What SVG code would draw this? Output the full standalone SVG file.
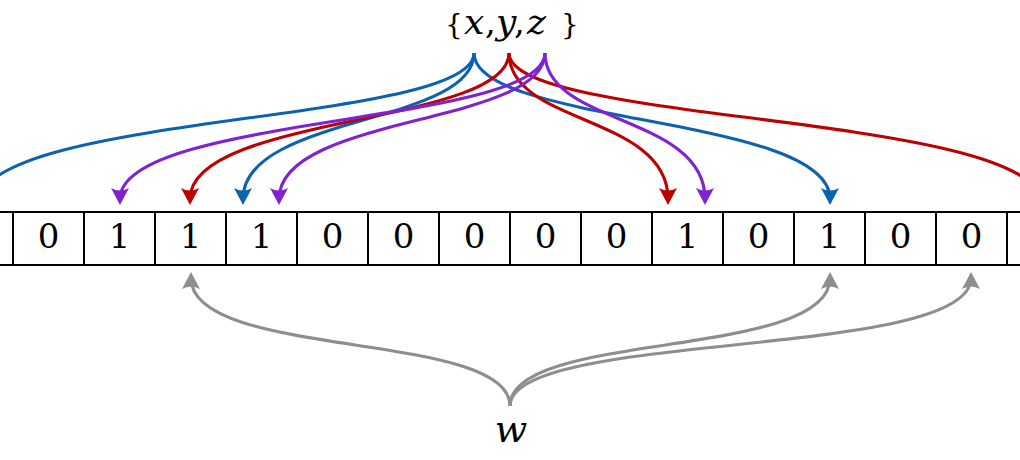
<svg xmlns="http://www.w3.org/2000/svg" width="1020" height="460" viewBox="0 0 1020 460">
<style>
.cell{fill:#fff;stroke:#000;stroke-width:2}
.dig{font-family:"DejaVu Serif",serif;font-size:34px;text-anchor:middle;fill:#000}
.it{font-family:"DejaVu Serif",serif;font-style:italic;fill:#000}
.up{font-family:"DejaVu Serif",serif;fill:#000}
.c{fill:none;stroke-width:3.1}
.b{stroke:#0b63b0}
.r{stroke:#bd0000}
.p{stroke:#8022d0}
.g{stroke:#8e8e8e}
</style>
<defs>
<marker id="mb" markerUnits="userSpaceOnUse" orient="auto" overflow="visible" refX="0" refY="0" markerWidth="20" markerHeight="20"><path d="M6,0 L-11,-9 Q-6,0 -11,9 Z" fill="#0b63b0"/></marker>
<marker id="mr" markerUnits="userSpaceOnUse" orient="auto" overflow="visible" refX="0" refY="0" markerWidth="20" markerHeight="20"><path d="M6,0 L-11,-9 Q-6,0 -11,9 Z" fill="#bd0000"/></marker>
<marker id="mp" markerUnits="userSpaceOnUse" orient="auto" overflow="visible" refX="0" refY="0" markerWidth="20" markerHeight="20"><path d="M6,0 L-11,-9 Q-6,0 -11,9 Z" fill="#8022d0"/></marker>
<marker id="mg" markerUnits="userSpaceOnUse" orient="auto" overflow="visible" refX="0" refY="0" markerWidth="20" markerHeight="20"><path d="M6,0 L-11,-9 Q-6,0 -11,9 Z" fill="#8e8e8e"/></marker>
</defs>
<rect width="1020" height="460" fill="#fff"/>
<g id="set">
<text y="34"><tspan class="up" x="445" font-size="28">{</tspan><tspan class="it" x="464" font-size="36">x</tspan><tspan class="up" x="485" font-size="34">,</tspan><tspan class="it" x="496" font-size="36">y</tspan><tspan class="up" x="514" font-size="34">,</tspan><tspan class="it" x="527" font-size="36">z</tspan><tspan class="up" x="561" font-size="28">}</tspan></text>
</g>
<g id="query">
<text class="it" x="511" y="442" font-size="38" text-anchor="middle">w</text>
</g>
<g id="array">
<g id="cell-l"><rect class="cell" x="-58" y="212" width="71" height="53"/></g>
<g id="cell0"><rect class="cell" x="13" y="212" width="71" height="53"/><text class="dig" x="48.5" y="248">0</text></g>
<g id="cell1"><rect class="cell" x="84" y="212" width="71" height="53"/><text class="dig" x="119.5" y="248">1</text></g>
<g id="cell2"><rect class="cell" x="155" y="212" width="71" height="53"/><text class="dig" x="190.5" y="248">1</text></g>
<g id="cell3"><rect class="cell" x="226" y="212" width="71" height="53"/><text class="dig" x="261.5" y="248">1</text></g>
<g id="cell4"><rect class="cell" x="297" y="212" width="71" height="53"/><text class="dig" x="332.5" y="248">0</text></g>
<g id="cell5"><rect class="cell" x="368" y="212" width="71" height="53"/><text class="dig" x="403.5" y="248">0</text></g>
<g id="cell6"><rect class="cell" x="439" y="212" width="71" height="53"/><text class="dig" x="474.5" y="248">0</text></g>
<g id="cell7"><rect class="cell" x="510" y="212" width="71" height="53"/><text class="dig" x="545.5" y="248">0</text></g>
<g id="cell8"><rect class="cell" x="581" y="212" width="71" height="53"/><text class="dig" x="616.5" y="248">0</text></g>
<g id="cell9"><rect class="cell" x="652" y="212" width="71" height="53"/><text class="dig" x="687.5" y="248">1</text></g>
<g id="cell10"><rect class="cell" x="723" y="212" width="71" height="53"/><text class="dig" x="758.5" y="248">0</text></g>
<g id="cell11"><rect class="cell" x="794" y="212" width="71" height="53"/><text class="dig" x="829.5" y="248">1</text></g>
<g id="cell12"><rect class="cell" x="865" y="212" width="71" height="53"/><text class="dig" x="900.5" y="248">0</text></g>
<g id="cell13"><rect class="cell" x="936" y="212" width="71" height="53"/><text class="dig" x="971.5" y="248">0</text></g>
<g id="cell-r"><rect class="cell" x="1007" y="212" width="71" height="53"/></g>
</g>
<g id="connectors">
<path class="c b" d="M474,53 C474,125 -22,112 -22,205"/>
<path class="c b" d="M474,53 C474,125 243,115 243,199" marker-end="url(#mb)"/>
<path class="c b" d="M474,53 C474,125 830,115 830,199" marker-end="url(#mb)"/>
<path class="c r" d="M509,53 C509,125 190,115 190,199" marker-end="url(#mr)"/>
<path class="c r" d="M509,53 C509,125 668,115 668,199" marker-end="url(#mr)"/>
<path class="c r" d="M509,53 C509,125 1042,112 1042,205"/>
<path class="c p" d="M545,53 C545,125 120,115 120,199" marker-end="url(#mp)"/>
<path class="c p" d="M545,53 C545,125 279,115 279,199" marker-end="url(#mp)"/>
<path class="c p" d="M545,53 C545,125 705,115 705,199" marker-end="url(#mp)"/>
<path class="c g" d="M510,406 C510,330 191,360 191,278" marker-end="url(#mg)"/>
<path class="c g" d="M510,406 C510,330 830,360 830,278" marker-end="url(#mg)"/>
<path class="c g" d="M510,406 C510,330 971,360 971,278" marker-end="url(#mg)"/>
</g>
</svg>
